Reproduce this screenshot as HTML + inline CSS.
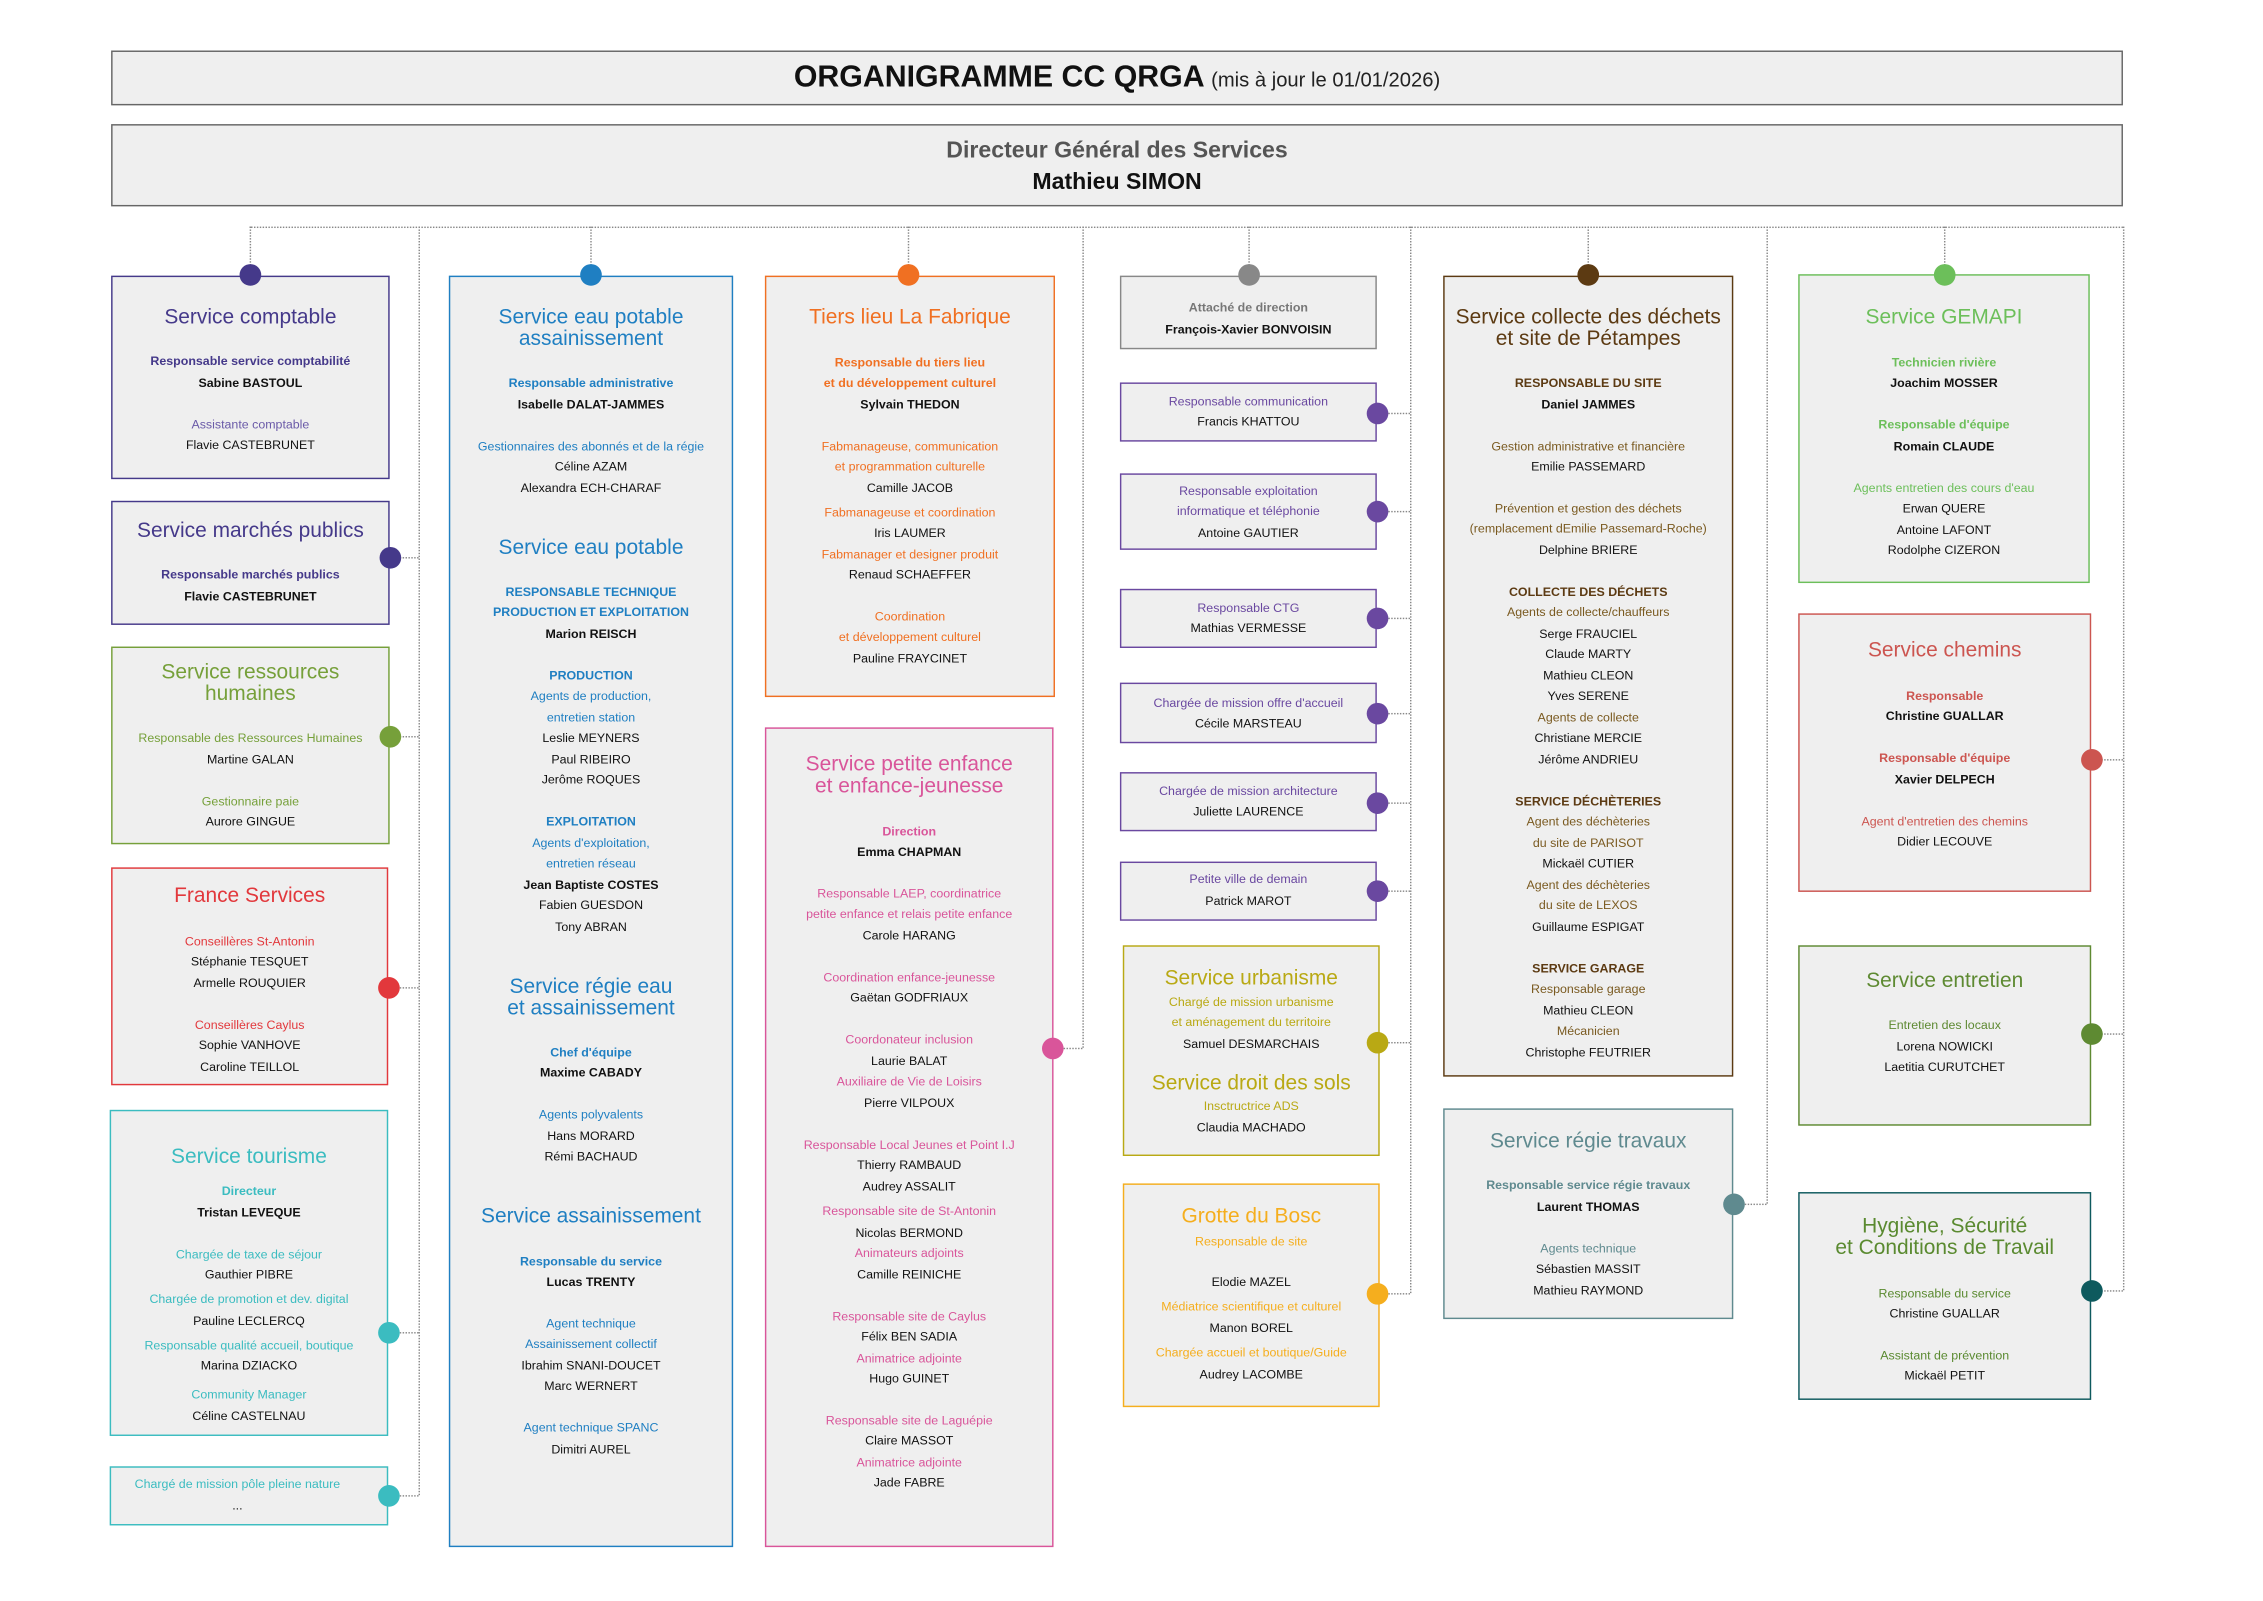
<!DOCTYPE html>
<html><head><meta charset="utf-8"><style>
html,body{margin:0;padding:0;background:#fff;width:2263px;height:1600px;overflow:hidden}
#s{position:absolute;left:0;top:0;width:1568px;height:1109px;transform:scale(1.4432);transform-origin:0 0;font-family:"Liberation Sans",sans-serif}
.bx{position:absolute;background:#efefef;border:1.3px solid var(--c);box-sizing:border-box}
.g{position:absolute;top:0;height:0}
.g div{position:absolute;left:0;right:0;text-align:center;white-space:nowrap;height:16px;line-height:16px;font-size:8.6px;color:#111}
.g .T{font-size:14.5px;color:var(--c)}
.g .l{color:var(--l,var(--c))}
.g .lb{color:var(--l,var(--c));font-weight:bold}
.g .nb{font-weight:bold}
.d{position:absolute;width:15px;height:15px;border-radius:50%;background:var(--c);margin:-7.5px 0 0 -7.5px}
.h{position:absolute;height:0;border-top:1px dotted #888}
.v{position:absolute;width:0;border-left:1px dotted #888}
</style></head><body><div id="s">

<div class="bx" style="--c:#666;left:77px;top:35px;width:1394px;height:38px;border-width:1px"></div>
<div style="position:absolute;left:77px;width:1394px;top:42px;text-align:center;white-space:nowrap"><span style="font-size:21px;font-weight:bold;color:#111">ORGANIGRAMME CC QRGA</span> <span style="font-size:14px;color:#222">(mis à jour le 01/01/2026)</span></div>
<div class="bx" style="--c:#666;left:77px;top:86px;width:1394px;height:57px;border-width:1px"></div>
<div style="position:absolute;left:77px;width:1394px;top:96px;text-align:center;font-size:16px;font-weight:bold;color:#555">Directeur Général des Services</div>
<div style="position:absolute;left:77px;width:1394px;top:118px;text-align:center;font-size:16px;font-weight:bold;color:#111">Mathieu SIMON</div>

<!-- connectors -->
<div class="h" style="left:173px;width:1298px;top:157px"></div>
<div class="v" style="left:173px;top:157px;height:33px"></div>
<div class="v" style="left:409px;top:157px;height:33px"></div>
<div class="v" style="left:629px;top:157px;height:33px"></div>
<div class="v" style="left:865px;top:157px;height:33px"></div>
<div class="v" style="left:1100px;top:157px;height:33px"></div>
<div class="v" style="left:1347px;top:157px;height:33px"></div>
<div class="v" style="left:290px;top:157px;height:879px"></div>
<div class="v" style="left:750px;top:157px;height:569px"></div>
<div class="v" style="left:977px;top:157px;height:739px"></div>
<div class="v" style="left:1224px;top:157px;height:677px"></div>
<div class="v" style="left:1471px;top:157px;height:737px"></div>
<div class="h" style="left:270px;width:20px;top:386px"></div>
<div class="h" style="left:270px;width:20px;top:510px"></div>
<div class="h" style="left:270px;width:20px;top:684px"></div>
<div class="h" style="left:270px;width:20px;top:923px"></div>
<div class="h" style="left:270px;width:20px;top:1036px"></div>
<div class="h" style="left:730px;width:20px;top:726px"></div>
<div class="h" style="left:954px;width:23px;top:286px"></div>
<div class="h" style="left:954px;width:23px;top:354px"></div>
<div class="h" style="left:954px;width:23px;top:428px"></div>
<div class="h" style="left:954px;width:23px;top:494px"></div>
<div class="h" style="left:954px;width:23px;top:556px"></div>
<div class="h" style="left:954px;width:23px;top:617px"></div>
<div class="h" style="left:954px;width:23px;top:722px"></div>
<div class="h" style="left:954px;width:23px;top:896px"></div>
<div class="h" style="left:1201px;width:23px;top:834px"></div>
<div class="h" style="left:1449px;width:22px;top:526px"></div>
<div class="h" style="left:1449px;width:22px;top:716px"></div>
<div class="h" style="left:1449px;width:22px;top:894px"></div>

<!-- Column 1 -->
<div class="bx" style="--c:#45398a;left:77px;top:191px;width:193px;height:141px"></div>
<div class="g" style="--c:#45398a;left:77px;width:193px"><div class="T" style="top:212px">Service comptable</div><div class="lb" style="top:242px">Responsable service comptabilité</div><div class="nb" style="top:257px">Sabine BASTOUL</div><div class="l" style="top:286px;--l:#6a5aa8">Assistante comptable</div><div class="n" style="top:300px">Flavie CASTEBRUNET</div></div>
<div class="d" style="--c:#45398a;left:173px;top:190px"></div>

<div class="bx" style="--c:#45398a;left:77px;top:347px;width:193px;height:86px"></div>
<div class="g" style="--c:#45398a;left:77px;width:193px"><div class="T" style="top:360px">Service marchés publics</div><div class="lb" style="top:390px">Responsable marchés publics</div><div class="nb" style="top:405px">Flavie CASTEBRUNET</div></div>
<div class="d" style="--c:#45398a;left:270px;top:386px"></div>

<div class="bx" style="--c:#76a03a;left:77px;top:448px;width:193px;height:137px"></div>
<div class="g" style="--c:#76a03a;left:77px;width:193px"><div class="T" style="top:458px">Service ressources</div><div class="T" style="top:473px">humaines</div><div class="l" style="top:503px">Responsable des Ressources Humaines</div><div class="n" style="top:518px">Martine GALAN</div><div class="l" style="top:547px">Gestionnaire paie</div><div class="n" style="top:561px">Aurore GINGUE</div></div>
<div class="d" style="--c:#76a03a;left:270px;top:510px"></div>

<div class="bx" style="--c:#e2383c;left:77px;top:601px;width:192px;height:151px"></div>
<div class="g" style="--c:#e2383c;left:77px;width:192px"><div class="T" style="top:613px">France Services</div><div class="l" style="top:644px">Conseillères St-Antonin</div><div class="n" style="top:658px">Stéphanie TESQUET</div><div class="n" style="top:673px">Armelle ROUQUIER</div><div class="l" style="top:702px">Conseillères Caylus</div><div class="n" style="top:716px">Sophie VANHOVE</div><div class="n" style="top:731px">Caroline TEILLOL</div></div>
<div class="d" style="--c:#e2383c;left:269px;top:684px"></div>

<div class="bx" style="--c:#3bbcc0;left:76px;top:769px;width:193px;height:226px"></div>
<div class="g" style="--c:#3bbcc0;left:76px;width:193px"><div class="T" style="top:794px">Service tourisme</div><div class="lb" style="top:817px">Directeur</div><div class="nb" style="top:832px">Tristan LEVEQUE</div><div class="l" style="top:861px">Chargée de taxe de séjour</div><div class="n" style="top:875px">Gauthier PIBRE</div><div class="l" style="top:892px">Chargée de promotion et dev. digital</div><div class="n" style="top:907px">Pauline LECLERCQ</div><div class="l" style="top:924px">Responsable qualité accueil, boutique</div><div class="n" style="top:938px">Marina DZIACKO</div><div class="l" style="top:958px">Community Manager</div><div class="n" style="top:973px">Céline CASTELNAU</div></div>
<div class="d" style="--c:#3bbcc0;left:269px;top:923px"></div>

<div class="bx" style="--c:#3bbcc0;left:76px;top:1016px;width:193px;height:41px"></div>
<div class="g" style="--c:#3bbcc0;left:68px;width:193px"><div class="l" style="top:1020px">Chargé de mission pôle pleine nature</div><div class="n" style="top:1035px">...</div></div>
<div class="d" style="--c:#3bbcc0;left:269px;top:1036px"></div>

<!-- Column 2 -->
<div class="bx" style="--c:#1f7fc2;left:311px;top:191px;width:197px;height:881px"></div>
<div class="g" style="--c:#1f7fc2;left:311px;width:197px">
<div class="T" style="top:212px">Service eau potable</div><div class="T" style="top:227px">assainissement</div>
<div class="lb" style="top:257px">Responsable administrative</div><div class="nb" style="top:272px">Isabelle DALAT-JAMMES</div>
<div class="l" style="top:301px">Gestionnaires des abonnés et de la régie</div><div class="n" style="top:315px">Céline AZAM</div><div class="n" style="top:330px">Alexandra ECH-CHARAF</div>
<div class="T" style="top:372px">Service eau potable</div>
<div class="lb" style="top:402px">RESPONSABLE TECHNIQUE</div><div class="lb" style="top:416px">PRODUCTION ET EXPLOITATION</div><div class="nb" style="top:431px">Marion REISCH</div>
<div class="lb" style="top:460px">PRODUCTION</div><div class="l" style="top:474px">Agents de production,</div><div class="l" style="top:489px">entretien station</div><div class="n" style="top:503px">Leslie MEYNERS</div><div class="n" style="top:518px">Paul RIBEIRO</div><div class="n" style="top:532px">Jerôme ROQUES</div>
<div class="lb" style="top:561px">EXPLOITATION</div><div class="l" style="top:576px">Agents d'exploitation,</div><div class="l" style="top:590px">entretien réseau</div><div class="nb" style="top:605px">Jean Baptiste COSTES</div><div class="n" style="top:619px">Fabien GUESDON</div><div class="n" style="top:634px">Tony ABRAN</div>
<div class="T" style="top:676px">Service régie eau</div><div class="T" style="top:691px">et assainissement</div>
<div class="lb" style="top:721px">Chef d'équipe</div><div class="nb" style="top:735px">Maxime CABADY</div>
<div class="l" style="top:764px">Agents polyvalents</div><div class="n" style="top:779px">Hans MORARD</div><div class="n" style="top:793px">Rémi BACHAUD</div>
<div class="T" style="top:835px">Service assainissement</div>
<div class="lb" style="top:866px">Responsable du service</div><div class="nb" style="top:880px">Lucas TRENTY</div>
<div class="l" style="top:909px">Agent technique</div><div class="l" style="top:923px">Assainissement collectif</div><div class="n" style="top:938px">Ibrahim SNANI-DOUCET</div><div class="n" style="top:952px">Marc WERNERT</div>
<div class="l" style="top:981px">Agent technique SPANC</div><div class="n" style="top:996px">Dimitri AUREL</div>
</div>
<div class="d" style="--c:#1f7fc2;left:409px;top:190px"></div>

<!-- Column 3 -->
<div class="bx" style="--c:#f07022;left:530px;top:191px;width:201px;height:292px"></div>
<div class="g" style="--c:#f07022;left:530px;width:201px">
<div class="T" style="top:212px">Tiers lieu La Fabrique</div>
<div class="lb" style="top:243px">Responsable du tiers lieu</div><div class="lb" style="top:257px">et du développement culturel</div><div class="nb" style="top:272px">Sylvain THEDON</div>
<div class="l" style="top:301px">Fabmanageuse, communication</div><div class="l" style="top:315px">et programmation culturelle</div><div class="n" style="top:330px">Camille JACOB</div>
<div class="l" style="top:347px">Fabmanageuse et coordination</div><div class="n" style="top:361px">Iris LAUMER</div>
<div class="l" style="top:376px">Fabmanager et designer produit</div><div class="n" style="top:390px">Renaud SCHAEFFER</div>
<div class="l" style="top:419px">Coordination</div><div class="l" style="top:433px">et développement culturel</div><div class="n" style="top:448px">Pauline FRAYCINET</div>
</div>
<div class="d" style="--c:#f07022;left:629px;top:190px"></div>

<div class="bx" style="--c:#d9559a;left:530px;top:504px;width:200px;height:568px"></div>
<div class="g" style="--c:#d9559a;left:530px;width:200px">
<div class="T" style="top:522px">Service petite enfance</div><div class="T" style="top:537px">et enfance-jeunesse</div>
<div class="lb" style="top:568px">Direction</div><div class="nb" style="top:582px">Emma CHAPMAN</div>
<div class="l" style="top:611px">Responsable LAEP, coordinatrice</div><div class="l" style="top:625px">petite enfance et relais petite enfance</div><div class="n" style="top:640px">Carole HARANG</div>
<div class="l" style="top:669px">Coordination enfance-jeunesse</div><div class="n" style="top:683px">Gaëtan GODFRIAUX</div>
<div class="l" style="top:712px">Coordonateur inclusion</div><div class="n" style="top:727px">Laurie BALAT</div><div class="l" style="top:741px">Auxiliaire de Vie de Loisirs</div><div class="n" style="top:756px">Pierre VILPOUX</div>
<div class="l" style="top:785px">Responsable Local Jeunes et Point I.J</div><div class="n" style="top:799px">Thierry RAMBAUD</div><div class="n" style="top:814px">Audrey ASSALIT</div>
<div class="l" style="top:831px">Responsable site de St-Antonin</div><div class="n" style="top:846px">Nicolas BERMOND</div><div class="l" style="top:860px">Animateurs adjoints</div><div class="n" style="top:875px">Camille REINICHE</div>
<div class="l" style="top:904px">Responsable site de Caylus</div><div class="n" style="top:918px">Félix BEN SADIA</div><div class="l" style="top:933px">Animatrice adjointe</div><div class="n" style="top:947px">Hugo GUINET</div>
<div class="l" style="top:976px">Responsable site de Laguépie</div><div class="n" style="top:990px">Claire MASSOT</div><div class="l" style="top:1005px">Animatrice adjointe</div><div class="n" style="top:1019px">Jade FABRE</div>
</div>
<div class="d" style="--c:#d9559a;left:729px;top:726px"></div>

<!-- Column 4 -->
<div class="bx" style="--c:#888;left:776px;top:191px;width:178px;height:51px"></div>
<div class="g" style="--c:#777;left:776px;width:178px"><div class="lb" style="top:205px">Attaché de direction</div><div class="nb" style="top:220px">François-Xavier BONVOISIN</div></div>
<div class="d" style="--c:#888;left:865px;top:190px"></div>

<div class="bx" style="--c:#6a48a0;left:776px;top:265px;width:178px;height:41px"></div>
<div class="g" style="--c:#6a48a0;left:776px;width:178px"><div class="l" style="top:270px">Responsable communication</div><div class="n" style="top:284px">Francis KHATTOU</div></div>
<div class="d" style="--c:#6a48a0;left:954px;top:286px"></div>

<div class="bx" style="--c:#6a48a0;left:776px;top:328px;width:178px;height:53px"></div>
<div class="g" style="--c:#6a48a0;left:776px;width:178px"><div class="l" style="top:332px">Responsable exploitation</div><div class="l" style="top:346px">informatique et téléphonie</div><div class="n" style="top:361px">Antoine GAUTIER</div></div>
<div class="d" style="--c:#6a48a0;left:954px;top:354px"></div>

<div class="bx" style="--c:#6a48a0;left:776px;top:408px;width:178px;height:41px"></div>
<div class="g" style="--c:#6a48a0;left:776px;width:178px"><div class="l" style="top:413px">Responsable CTG</div><div class="n" style="top:427px">Mathias VERMESSE</div></div>
<div class="d" style="--c:#6a48a0;left:954px;top:428px"></div>

<div class="bx" style="--c:#6a48a0;left:776px;top:473px;width:178px;height:42px"></div>
<div class="g" style="--c:#6a48a0;left:776px;width:178px"><div class="l" style="top:479px">Chargée de mission offre d'accueil</div><div class="n" style="top:493px">Cécile MARSTEAU</div></div>
<div class="d" style="--c:#6a48a0;left:954px;top:494px"></div>

<div class="bx" style="--c:#6a48a0;left:776px;top:535px;width:178px;height:41px"></div>
<div class="g" style="--c:#6a48a0;left:776px;width:178px"><div class="l" style="top:540px">Chargée de mission architecture</div><div class="n" style="top:554px">Juliette LAURENCE</div></div>
<div class="d" style="--c:#6a48a0;left:954px;top:556px"></div>

<div class="bx" style="--c:#6a48a0;left:776px;top:597px;width:178px;height:41px"></div>
<div class="g" style="--c:#6a48a0;left:776px;width:178px"><div class="l" style="top:601px">Petite ville de demain</div><div class="n" style="top:616px">Patrick MAROT</div></div>
<div class="d" style="--c:#6a48a0;left:954px;top:617px"></div>

<div class="bx" style="--c:#b9a914;left:778px;top:655px;width:178px;height:146px"></div>
<div class="g" style="--c:#b9a914;left:778px;width:178px"><div class="T" style="top:670px">Service urbanisme</div><div class="l" style="top:686px">Chargé de mission urbanisme</div><div class="l" style="top:700px">et aménagement du territoire</div><div class="n" style="top:715px">Samuel DESMARCHAIS</div><div class="T" style="top:743px">Service droit des sols</div><div class="l" style="top:758px">Insctructrice ADS</div><div class="n" style="top:773px">Claudia MACHADO</div></div>
<div class="d" style="--c:#b9a914;left:954px;top:722px"></div>

<div class="bx" style="--c:#f5ae1e;left:778px;top:820px;width:178px;height:155px"></div>
<div class="g" style="--c:#f5ae1e;left:778px;width:178px"><div class="T" style="top:835px">Grotte du Bosc</div><div class="l" style="top:852px">Responsable de site</div><div class="n" style="top:880px">Elodie MAZEL</div><div class="l" style="top:897px">Médiatrice scientifique et culturel</div><div class="n" style="top:912px">Manon BOREL</div><div class="l" style="top:929px">Chargée accueil et boutique/Guide</div><div class="n" style="top:944px">Audrey LACOMBE</div></div>
<div class="d" style="--c:#f5ae1e;left:954px;top:896px"></div>

<!-- Column 5 -->
<div class="bx" style="--c:#5c3a12;left:1000px;top:191px;width:201px;height:555px"></div>
<div class="g" style="--c:#5c3a12;--l:#7a5a20;left:1000px;width:201px">
<div class="T" style="top:212px">Service collecte des déchets</div><div class="T" style="top:227px">et site de Pétampes</div>
<div class="lb" style="top:257px;color:#5c3a12">RESPONSABLE DU SITE</div><div class="nb" style="top:272px">Daniel JAMMES</div>
<div class="l" style="top:301px">Gestion administrative et financière</div><div class="n" style="top:315px">Emilie PASSEMARD</div>
<div class="l" style="top:344px">Prévention et gestion des déchets</div><div class="l" style="top:358px">(remplacement dEmilie Passemard-Roche)</div><div class="n" style="top:373px">Delphine BRIERE</div>
<div class="lb" style="top:402px;color:#5c3a12">COLLECTE DES DÉCHETS</div><div class="l" style="top:416px">Agents de collecte/chauffeurs</div><div class="n" style="top:431px">Serge FRAUCIEL</div><div class="n" style="top:445px">Claude MARTY</div><div class="n" style="top:460px">Mathieu CLEON</div><div class="n" style="top:474px">Yves SERENE</div><div class="l" style="top:489px">Agents de collecte</div><div class="n" style="top:503px">Christiane MERCIE</div><div class="n" style="top:518px">Jérôme ANDRIEU</div>
<div class="lb" style="top:547px;color:#5c3a12">SERVICE DÉCHÈTERIES</div><div class="l" style="top:561px">Agent des déchèteries</div><div class="l" style="top:576px">du site de PARISOT</div><div class="n" style="top:590px">Mickaël CUTIER</div><div class="l" style="top:605px">Agent des déchèteries</div><div class="l" style="top:619px">du site de LEXOS</div><div class="n" style="top:634px">Guillaume ESPIGAT</div>
<div class="lb" style="top:663px;color:#5c3a12">SERVICE GARAGE</div><div class="l" style="top:677px">Responsable garage</div><div class="n" style="top:692px">Mathieu CLEON</div><div class="l" style="top:706px">Mécanicien</div><div class="n" style="top:721px">Christophe FEUTRIER</div>
</div>
<div class="d" style="--c:#5c3a12;left:1100px;top:190px"></div>

<div class="bx" style="--c:#5f8a8f;left:1000px;top:768px;width:201px;height:146px"></div>
<div class="g" style="--c:#5f8a8f;left:1000px;width:201px"><div class="T" style="top:783px">Service régie travaux</div><div class="lb" style="top:813px">Responsable service régie travaux</div><div class="nb" style="top:828px">Laurent THOMAS</div><div class="l" style="top:857px">Agents technique</div><div class="n" style="top:871px">Sébastien MASSIT</div><div class="n" style="top:886px">Mathieu RAYMOND</div></div>
<div class="d" style="--c:#5f8a8f;left:1201px;top:834px"></div>

<!-- Column 6 -->
<div class="bx" style="--c:#6cbf5a;left:1246px;top:190px;width:202px;height:214px"></div>
<div class="g" style="--c:#6cbf5a;left:1246px;width:202px"><div class="T" style="top:212px">Service GEMAPI</div><div class="lb" style="top:243px">Technicien rivière</div><div class="nb" style="top:257px">Joachim MOSSER</div><div class="lb" style="top:286px">Responsable d'équipe</div><div class="nb" style="top:301px">Romain CLAUDE</div><div class="l" style="top:330px">Agents entretien des cours d'eau</div><div class="n" style="top:344px">Erwan QUERE</div><div class="n" style="top:359px">Antoine LAFONT</div><div class="n" style="top:373px">Rodolphe CIZERON</div></div>
<div class="d" style="--c:#6cbf5a;left:1347px;top:190px"></div>

<div class="bx" style="--c:#cc5550;left:1246px;top:425px;width:203px;height:193px"></div>
<div class="g" style="--c:#cc5550;left:1246px;width:203px"><div class="T" style="top:443px">Service chemins</div><div class="lb" style="top:474px">Responsable</div><div class="nb" style="top:488px">Christine GUALLAR</div><div class="lb" style="top:517px">Responsable d'équipe</div><div class="nb" style="top:532px">Xavier DELPECH</div><div class="l" style="top:561px">Agent d'entretien des chemins</div><div class="n" style="top:575px">Didier LECOUVE</div></div>
<div class="d" style="--c:#cc5550;left:1449px;top:526px"></div>

<div class="bx" style="--c:#5e8a32;left:1246px;top:655px;width:203px;height:125px"></div>
<div class="g" style="--c:#5e8a32;left:1246px;width:203px"><div class="T" style="top:672px">Service entretien</div><div class="l" style="top:702px">Entretien des locaux</div><div class="n" style="top:717px">Lorena NOWICKI</div><div class="n" style="top:731px">Laetitia CURUTCHET</div></div>
<div class="d" style="--c:#5e8a32;left:1449px;top:716px"></div>

<div class="bx" style="--c:#0e5a5e;left:1246px;top:826px;width:203px;height:144px"></div>
<div class="g" style="--c:#5a8a30;left:1246px;width:203px"><div class="T" style="top:842px">Hygiène, Sécurité</div><div class="T" style="top:857px">et Conditions de Travail</div><div class="l" style="top:888px">Responsable du service</div><div class="n" style="top:902px">Christine GUALLAR</div><div class="l" style="top:931px">Assistant de prévention</div><div class="n" style="top:945px">Mickaël PETIT</div></div>
<div class="d" style="--c:#0e5a5e;left:1449px;top:894px"></div>

</div></body></html>
